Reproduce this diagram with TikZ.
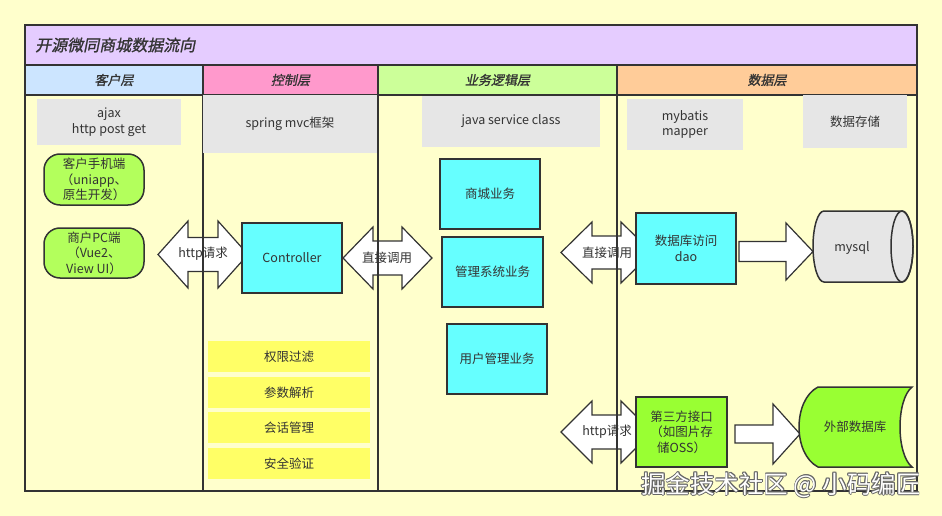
\documentclass[tikz,border=0pt]{standalone}
\usepackage{fontspec}
\setmainfont{Noto Sans CJK SC}
\newfontfamily\slantcjk{Noto Sans CJK SC}[FakeSlant=0.2,FakeBold=1]
\definecolor{bgc}{HTML}{FFFFCC}
\definecolor{linec}{HTML}{333333}
\definecolor{txt}{HTML}{333333}
\definecolor{titlec}{HTML}{E5CCFF}
\definecolor{h1c}{HTML}{CCE5FF}
\definecolor{h2c}{HTML}{FF99CC}
\definecolor{h3c}{HTML}{CCFF99}
\definecolor{h4c}{HTML}{FFCC99}
\definecolor{grayc}{HTML}{E6E6E6}
\definecolor{cyanc}{HTML}{66FFFF}
\definecolor{limec}{HTML}{B3FF5C}
\definecolor{greenc}{HTML}{99FF33}
\definecolor{yelc}{HTML}{FFFF66}
\newcommand\myDArrow[6]{%
  \draw[arrowst] (#1,#3) -- (#1+#4,#3-#5) -- (#1+#4,#3-#6) -- (#2-#4,#3-#6) -- (#2-#4,#3-#5) -- (#2,#3)
   -- (#2-#4,#3+#5) -- (#2-#4,#3+#6) -- (#1+#4,#3+#6) -- (#1+#4,#3+#5) -- cycle;}
\newcommand\mySArrow[6]{%
  \draw[arrowst] (#1,#4-#6) -- (#2,#4-#6) -- (#2,#4-#5) -- (#3,#4) -- (#2,#4+#5) -- (#2,#4+#6) -- (#1,#4+#6) -- cycle;}
\begin{document}
\begin{tikzpicture}[x=1pt,y=1pt,yscale=-1,
  lbl/.style={text=txt, font=\fontsize{12.5}{15.5}\selectfont, align=center, inner sep=0pt},
  hdr/.style={text=txt, font=\slantcjk\fontsize{13}{15}\selectfont, inner sep=0pt},
  graybox/.style={lbl, fill=grayc},
  cyanbox/.style={lbl, fill=cyanc, draw=linec, line width=1.5pt},
  limebox/.style={lbl, fill=limec, draw=linec, line width=1.5pt, rounded corners=16pt},
  greenbox/.style={lbl, fill=greenc, draw=linec, line width=1.5pt},
  yelbox/.style={lbl, fill=yelc, minimum width=162pt, minimum height=31pt},
  arrowst/.style={fill=white, draw=linec, line width=1.2pt, line join=miter},
  frame/.style={draw=linec, line width=1.8pt},
  wm/.style={font=\fontsize{24.5}{28}\selectfont, inner sep=0pt}
]
\useasboundingbox (0,0) rectangle (942,516);
\fill[bgc] (0,0) rectangle (942,516);
% bands
\fill[titlec] (25,25) rectangle (917,65);
\fill[h1c] (25,65) rectangle (203,95);
\fill[h2c] (203,65) rectangle (378,95);
\fill[h3c] (378,65) rectangle (617,95);
\fill[h4c] (617,65) rectangle (917,95);
% block arrows (under the lines)
\myDArrow{158}{248}{254.5}{30}{33.5}{17}
\myDArrow{343}{432}{258}{30}{31}{17}
\myDArrow{561}{652}{252.5}{31}{30.5}{16.5}
\myDArrow{561}{652}{432}{31}{31}{17}
\mySArrow{739}{786}{813}{251.5}{28.5}{10}
\mySArrow{735}{773}{800}{434}{30}{9}
% frame lines
\draw[frame] (25,65) -- (917,65);
\draw[frame] (25,95) -- (917,95);
\draw[frame] (203,65) -- (203,491);
\draw[frame] (378,65) -- (378,491);
\draw[frame] (617,65) -- (617,491);
\draw[frame] (25,25) rectangle (917,491);
% titles
\node[text=txt, font=\slantcjk\fontsize{16}{18}\selectfont, inner sep=0pt, anchor=west] (title) at (35,45) {开源微同商城数据流向};
\node[hdr] (hc) at (114,80) {客户层};
\node[hdr] (hk) at (290.5,80) {控制层};
\node[hdr] (hy) at (497.5,80) {业务逻辑层};
\node[hdr] (hs) at (767,80) {数据层};
% gray info boxes
\node[graybox, minimum width=144pt, minimum height=46pt] (ajax) at (109,122) {ajax\\http post get};
\node[graybox, minimum width=174pt, minimum height=58pt] (spring) at (290,124) {spring mvc框架};
\node[graybox, minimum width=178pt, minimum height=51pt] (java) at (511,121.5) {java service class};
\node[graybox, minimum width=116pt, minimum height=51pt] (mybatis) at (685,124.5) {mybatis\\mapper};
\node[graybox, minimum width=104pt, minimum height=53pt] (store) at (855,121.5) {数据存储};
% client
\node[limebox, minimum width=100pt, minimum height=51pt] (phone) at (94,179.5) {客户手机端\\（uniapp、\\原生开发）};
\node[limebox, minimum width=100pt, minimum height=50pt] (pc) at (94,253) {商户PC端\\（Vue2、\\View UI）};
% control
\node[cyanbox, minimum width=100pt, minimum height=70pt] (ctrl) at (292,258) {Controller};
\node[yelbox] (y1) at (289,356.5) {权限过滤};
\node[yelbox] (y2) at (289,392.5) {参数解析};
\node[yelbox] (y3) at (289,427.5) {会话管理};
\node[yelbox] (y4) at (289,463.5) {安全验证};
% business
\node[cyanbox, minimum width=100pt, minimum height=70pt] (shop) at (490,194) {商城业务};
\node[cyanbox, minimum width=101pt, minimum height=70pt] (admin) at (492.5,272) {管理系统业务};
\node[cyanbox, minimum width=100pt, minimum height=70pt] (user) at (497,359) {用户管理业务};
% data
\node[cyanbox, minimum width=100pt, minimum height=71pt] (dao) at (686,248.5) {数据库访问\\dao};
\node[greenbox, minimum width=91pt, minimum height=70pt] (oss) at (681.5,432) {第三方接口\\（如图片存\\储OSS）};
% mysql cylinder
\draw[fill=grayc, draw=linec, line width=1.5pt] (824,211) -- (902,211) arc[start angle=-90, end angle=90, x radius=11, y radius=35.5]
  -- (824,282) arc[start angle=90, end angle=270, x radius=11, y radius=35.5] -- cycle;
\draw[draw=linec, line width=1.5pt] (902,246.5) ellipse[x radius=11, y radius=35.5];
\node[lbl] (mysql) at (852,248) {mysql};
% external storage
\draw[fill=greenc, draw=linec, line width=1.5pt] (818,387) -- (912,387) .. controls (896,400) and (896,454) .. (912,467)
  -- (818,467) .. controls (792.7,454) and (792.7,400) .. (818,387) -- cycle;
\node[lbl] (ext) at (855,427) {外部数据库};
% arrow labels
\node[lbl] (a1) at (203,254) {http请求};
\node[lbl] (a2) at (387,258) {直接调用};
\node[lbl] (a3) at (607,253) {直接调用};
\node[lbl] (a4) at (607,432) {http请求};
% watermark
\foreach \dx/\dy in {-0.9/0,0.9/0,0/-0.9,0/0.9,-0.7/-0.7,0.7/0.7,-0.7/0.7,0.7/-0.7}
  \node[wm, text=gray!80!black] at (781+\dx,485+\dy) {掘金技术社区 @ 小码编匠};
\node[wm, text=white] (wmark) at (781,485) {掘金技术社区 @ 小码编匠};
\end{tikzpicture}
\end{document}
